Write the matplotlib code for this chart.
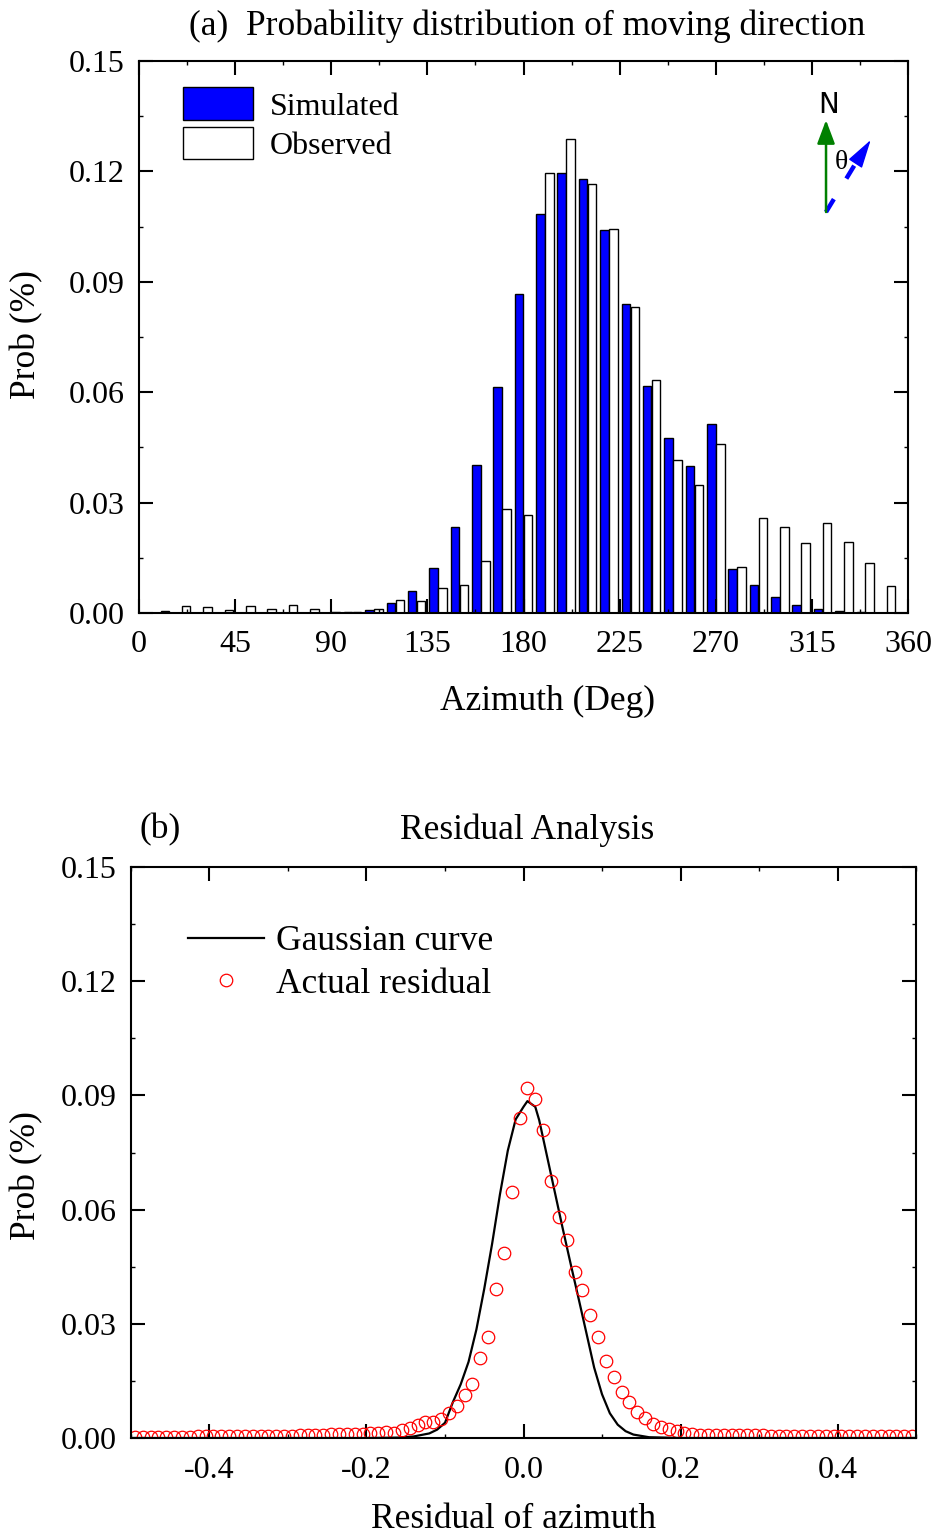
import numpy as np
import matplotlib
matplotlib.use("Agg")
import matplotlib.pyplot as plt
from matplotlib.ticker import MultipleLocator

plt.rcParams['font.family'] = ['Liberation Serif', 'DejaVu Serif']
plt.rcParams['axes.unicode_minus'] = False

FS = 23      # tick labels, legend of (a)
FL = 25.5    # titles, axis labels, legend of (b)

# ---- (a) moving direction histogram, 10 deg bins ----
az_bins = np.arange(10, 360, 10)
sim_prob = [0, 0, 0, 0, 0, 0, 0, 0, 0, 0.0004,
            0.0009, 0.0028, 0.0059, 0.0122, 0.0233, 0.0402, 0.0615, 0.0868, 0.1085, 0.1195,
            0.1178, 0.1042, 0.0840, 0.0616, 0.0475, 0.0400, 0.0513, 0.0119, 0.0075, 0.0044,
            0.0023, 0.0010, 0.0005, 0.0002, 0]
obs_prob = [0.0006, 0.0020, 0.0017, 0.0009, 0.0019, 0.0010, 0.0021, 0.0010, 0.0002, 0.0003,
            0.0012, 0.0034, 0.0032, 0.0067, 0.0076, 0.0142, 0.0282, 0.0265, 0.1196, 0.1288,
            0.1166, 0.1043, 0.0832, 0.0634, 0.0416, 0.0348, 0.0458, 0.0126, 0.0257, 0.0233,
            0.0189, 0.0244, 0.0194, 0.0137, 0.0073]

# ---- (b) residual analysis ----
res_x = np.linspace(-0.495, 0.495, 100)
res_prob = [0.0003, 0.0003, 0.0003, 0.0003, 0.0003, 0.0003, 0.0003, 0.0003, 0.0004, 0.0004,
            0.0004, 0.0004, 0.0004, 0.0004, 0.0005, 0.0005, 0.0005, 0.0005, 0.0006, 0.0006,
            0.0006, 0.0007, 0.0008, 0.0009, 0.0008, 0.0010, 0.0010, 0.0011, 0.0010, 0.0011,
            0.0014, 0.0012, 0.0016, 0.0013, 0.0021, 0.0027, 0.0035, 0.0043, 0.0042, 0.0050,
            0.0066, 0.0084, 0.0112, 0.0141, 0.0209, 0.0266, 0.0391, 0.0487, 0.0647, 0.0841,
            0.0919, 0.0890, 0.0809, 0.0675, 0.0581, 0.0520, 0.0435, 0.0389, 0.0323, 0.0266,
            0.0202, 0.0161, 0.0122, 0.0094, 0.0069, 0.0053, 0.0036, 0.0028, 0.0024, 0.0019,
            0.0012, 0.0010, 0.0009, 0.0008, 0.0008, 0.0008, 0.0008, 0.0008, 0.0008, 0.0008,
            0.0008, 0.0006, 0.0006, 0.0006, 0.0006, 0.0006, 0.0006, 0.0006, 0.0006, 0.0006,
            0.0006, 0.0004, 0.0004, 0.0004, 0.0004, 0.0004, 0.0004, 0.0004, 0.0004, 0.0004]

gauss_x = [-0.5, -0.2, -0.16, -0.14, -0.12, -0.11, -0.10, -0.09, -0.08, -0.07, -0.06, -0.05,
           -0.04, -0.03, -0.02, -0.01, 0.0, 0.005, 0.015, 0.02, 0.03, 0.04, 0.05, 0.06, 0.07,
           0.08, 0.09, 0.10, 0.11, 0.12, 0.13, 0.14, 0.16, 0.2, 0.5]
gauss_y = [0, 0, 0.0001, 0.0004, 0.0012, 0.0022, 0.0040, 0.0094, 0.0141, 0.0200, 0.0285, 0.0392,
           0.0510, 0.0640, 0.0755, 0.0837, 0.0870, 0.0885, 0.0870, 0.0835, 0.0740, 0.0645, 0.0550,
           0.0458, 0.0368, 0.0277, 0.0185, 0.0115, 0.0065, 0.0035, 0.0018, 0.0009, 0.0002, 0, 0]

W, H = 936, 1537
fig = plt.figure(figsize=(W / 100, H / 100), dpi=100)


def style_axes(ax, pad_x, pad_y):
    for s in ax.spines.values():
        s.set_linewidth(1.5)
    ax.tick_params(which='both', direction='in', top=True, right=True, labelsize=FS)
    ax.tick_params(which='major', length=10, width=1.5)
    ax.tick_params(which='minor', length=3, width=1)
    ax.tick_params(axis='x', pad=pad_x)
    ax.tick_params(axis='y', pad=pad_y)


ax1 = fig.add_axes([139 / W, 1 - 613 / H, (908 - 139) / W, (613 - 61) / H])
bw = 4.0
ax1.bar(az_bins - 2.1, sim_prob, width=bw, color='#0000ff', edgecolor='black',
        linewidth=1, label='Simulated')
ax1.bar(az_bins + 2.1, obs_prob, width=bw, color='white', edgecolor='black',
        linewidth=1, label='Observed')
ax1.set_xlim(0, 360)
ax1.set_ylim(0, 0.15)
ax1.xaxis.set_major_locator(MultipleLocator(45))
ax1.xaxis.set_minor_locator(MultipleLocator(22.5))
ax1.yaxis.set_major_locator(MultipleLocator(0.03))
ax1.yaxis.set_minor_locator(MultipleLocator(0.015))
ax1.yaxis.set_major_formatter(plt.FormatStrFormatter('%.2f'))
style_axes(ax1, 12, 10)
ax1.legend(loc='upper left', bbox_to_anchor=(0.057, 0.952), frameon=False, fontsize=FS,
           borderpad=0, borderaxespad=0, handlelength=2.2, handleheight=1.21,
           handletextpad=0.53, labelspacing=0.15)

# north / moving-direction sketch (axes fraction)
ax1.annotate('', xy=(0.8934, 0.893), xytext=(0.8934, 0.7264), xycoords='axes fraction',
             arrowprops=dict(arrowstyle='-|>,head_length=0.8,head_width=0.3', color='green',
                             lw=1.8, mutation_scale=18, shrinkA=0, shrinkB=0))
ax1.plot([0.8934, 0.9337], [0.7264, 0.8188], transform=ax1.transAxes, color='#0000ff',
         lw=3.2, dashes=(3.4, 5.4), solid_capstyle='butt', dash_capstyle='butt')
ax1.annotate('', xy=(0.9515, 0.8569), xytext=(0.9337, 0.8188), xycoords='axes fraction',
             arrowprops=dict(arrowstyle='-|>,head_length=1.0,head_width=0.28', color='#0000ff',
                             lw=1, mutation_scale=18, shrinkA=0, shrinkB=0))
ax1.text(0.897, 0.920, 'N', transform=ax1.transAxes, ha='center', va='center',
         fontsize=20, family=['DejaVu Sans'])
ax1.text(0.913, 0.817, 'θ', transform=ax1.transAxes, ha='center', va='center', fontsize=20)

fig.text(527 / W, 1 - 26 / H, '(a)  Probability distribution of moving direction',
         ha='center', va='center', fontsize=FL)
fig.text(548 / W, 1 - 701 / H, 'Azimuth (Deg)', ha='center', va='center', fontsize=FL)
fig.text(27 / W, 1 - 335 / H, 'Prob (%)', ha='center', va='center', rotation=90, fontsize=FL)

ax2 = fig.add_axes([131 / W, 1 - 1438 / H, (916 - 131) / W, (1438 - 867) / H])
ax2.plot(gauss_x, gauss_y, color='black', lw=1.6, label='Gaussian curve')
ax2.plot(res_x, res_prob, 'o', ms=9, mfc='none', mec='red', mew=0.9, label='Actual residual')
ax2.set_xlim(-0.5, 0.5)
ax2.set_ylim(0, 0.15)
ax2.xaxis.set_major_locator(MultipleLocator(0.2))
ax2.xaxis.set_minor_locator(MultipleLocator(0.1))
ax2.yaxis.set_major_locator(MultipleLocator(0.03))
ax2.yaxis.set_minor_locator(MultipleLocator(0.015))
ax2.xaxis.set_major_formatter(plt.FormatStrFormatter('%.1f'))
ax2.yaxis.set_major_formatter(plt.FormatStrFormatter('%.2f'))
style_axes(ax2, 13, 10)
ax2.legend(loc='upper left', bbox_to_anchor=(0.0726, 0.898), frameon=False, fontsize=FL,
           borderpad=0, borderaxespad=0, handlelength=2.15, handletextpad=0.33,
           labelspacing=0.27, numpoints=1)

fig.text(160 / W, 1 - 830 / H, '(b)', ha='center', va='center', fontsize=FL)
fig.text(527 / W, 1 - 830 / H, 'Residual Analysis', ha='center', va='center', fontsize=FL)
fig.text(514 / W, 1 - 1520 / H, 'Residual of azimuth', ha='center', va='center', fontsize=FL)
fig.text(27 / W, 1 - 1176 / H, 'Prob (%)', ha='center', va='center', rotation=90, fontsize=FL)

fig.savefig('out.png', dpi=100)
